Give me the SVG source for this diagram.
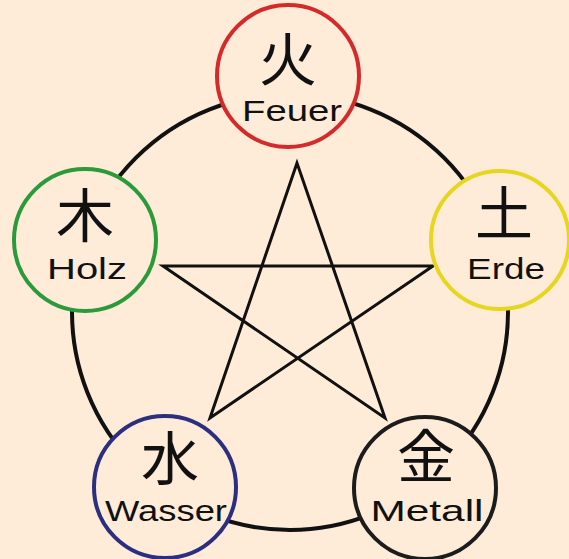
<svg xmlns="http://www.w3.org/2000/svg" width="569" height="559" viewBox="0 0 569 559">
<style>
.node{fill:#feecd9;stroke-width:4}
.kanji{font-family:"Noto Sans CJK JP","Noto Sans CJK SC",sans-serif;font-size:58px;fill:#111;text-anchor:middle;dominant-baseline:central}
.lbl{font-family:"Liberation Sans","DejaVu Sans",sans-serif;font-size:29px;fill:#111;text-anchor:middle}
.conn{fill:none;stroke:#111}
</style>
<rect width="569" height="559" fill="#feecd9"/>
<g id="connectors">
<circle class="conn" cx="290" cy="312" r="218" stroke-width="4"/>
<path class="conn" stroke-width="3" stroke-linejoin="miter" d="M297,163 L210,418 L433,266 L163,266 L385,418 Z"/>
</g>
<g id="feuer">
<circle class="node" cx="288" cy="76" r="71" stroke="#d42a2a"/>
<text class="kanji" x="288" y="56">火</text>
<text class="lbl" x="292" y="121" textLength="100" lengthAdjust="spacingAndGlyphs">Feuer</text>
</g>
<g id="erde">
<circle class="node" cx="500" cy="240" r="69" stroke="#e6d61e"/>
<text class="kanji" x="504" y="210">土</text>
<text class="lbl" x="506" y="279" textLength="78" lengthAdjust="spacingAndGlyphs">Erde</text>
</g>
<g id="metall">
<circle class="node" cx="425" cy="488" r="71" stroke="#1c1c1c"/>
<text class="kanji" x="426" y="453">金</text>
<text class="lbl" x="427" y="521" textLength="113" lengthAdjust="spacingAndGlyphs">Metall</text>
</g>
<g id="wasser">
<circle class="node" cx="165" cy="487" r="71" stroke="#2c2f80"/>
<text class="kanji" x="170" y="455">水</text>
<text class="lbl" x="166" y="521" textLength="122" lengthAdjust="spacingAndGlyphs">Wasser</text>
</g>
<g id="holz">
<circle class="node" cx="85" cy="240" r="71" stroke="#2a9a3a"/>
<text class="kanji" x="85" y="212">木</text>
<text class="lbl" x="87" y="279" textLength="80" lengthAdjust="spacingAndGlyphs">Holz</text>
</g>
</svg>
